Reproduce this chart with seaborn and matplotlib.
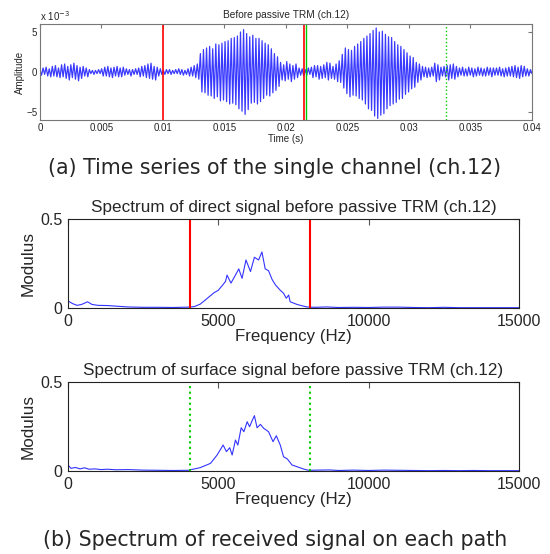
import numpy as np
import pandas as pd
import matplotlib
matplotlib.use("Agg")
import matplotlib.pyplot as plt
import seaborn as sns

# time series (ch.12), local extremes, units of 1e-3
noise_before = [0.3, -0.4, 0.5, -0.3, 0.6, -0.5, 0.4, -0.6,
                0.7, -0.5, 0.8, -0.6, 0.5, -0.7, 0.9, -0.6,
                1.0, -0.8, 0.7, -1.0, 0.9, -0.7, 1.1, -0.9,
                0.8, -1.1, 0.6, -0.8, 0.7, -0.5, 0.5, -0.6,
                0.3, -0.2, 0.2, -0.3, 0.2, -0.2, 0.3, -0.2,
                0.4, -0.5, 0.6, -0.5, 0.7, -0.6, 0.5, -0.7,
                0.6, -0.5, 0.7, -0.6, 0.5, -0.6, 0.6, -0.4,
                0.4, -0.3, 0.3, -0.5, 0.3, -0.3, 0.4, -0.3,
                0.5, -0.6, 0.7, -0.5, 0.8, -0.7, 1.0, -0.8,
                1.1, -0.9, 0.7, -1.0, 0.6, -0.5, 0.4, -0.3,
                0.2, -0.3, 0.3, -0.2, 0.3, -0.3, 0.2, -0.2,
                0.3, -0.2, 0.4, -0.3, 0.3, -0.4, 0.2, -0.3,
                0.4, -0.5, 0.6, -0.5, 0.8, -0.7, 1.0, -0.9]
burst_direct = [2.3, -2.5, 2.8, -2.6, 3.0, -2.9, 3.2, -3.0,
                2.9, -3.3, 3.5, -3.1, 3.4, -3.6, 3.6, -3.5,
                3.8, -3.7, 3.9, -4.0, 4.2, -3.9, 4.3, -4.1,
                4.5, -4.6, 5.0, -4.9, 5.3, -5.3, 4.8, -4.7,
                4.4, -3.9, 4.6, -3.8, 4.2, -4.0, 4.2, -3.7,
                3.9, -3.3, 3.6, -2.9, 3.4, -3.0, 2.9, -2.6,
                2.3, -2.3, 1.9, -1.8, 1.2, -1.0, 0.9, -1.1,
                1.3, -0.9, 1.0, -1.2, 0.8, -0.9, 1.0, -0.7]
gap = [0.5, -0.4, 0.4, -0.5, 0.3, -0.4, 0.5, -0.3,
       0.6, -0.7, 0.8, -0.6, 0.8, -0.9, 0.7, -0.8,
       0.9, -0.7, 1.2, -1.0, 1.1, -0.8, 0.7, -0.9]
burst_surface = [1.0, -1.2, 1.4, -1.3, 2.2, -2.0, 3.0, -2.7,
                 2.8, -3.1, 2.7, -2.9, 3.2, -3.0, 3.5, -3.3,
                 3.8, -3.5, 4.2, -4.0, 4.5, -4.6, 4.8, -4.8,
                 5.2, -5.5, 5.5, -5.8, 5.0, -5.4, 5.1, -5.2,
                 4.7, -4.6, 4.4, -4.2, 4.3, -4.0, 3.8, -3.8,
                 3.4, -3.4, 3.2, -3.3, 2.8, -2.8, 2.4, -2.5,
                 2.0, -2.1, 1.8, -1.9, 1.2, -1.3, 1.0, -1.0]
noise_after = [0.7, -0.6, 0.6, -0.7, 0.5, -0.6, 0.6, -0.5,
               1.1, -1.2, 0.9, -1.0, 0.6, -0.5, 0.7, -0.6,
               0.8, -1.0, 0.9, -0.8, 1.0, -0.9, 0.7, -0.6,
               0.5, -0.4, 0.6, -0.5, 0.4, -0.5, 0.6, -0.4,
               0.5, -0.6, 0.4, -0.5, 0.6, -0.4, 0.5, -0.5,
               0.4, -0.5, 0.6, -0.4, 0.5, -0.6, 0.5, -0.4,
               0.5, -0.4, 0.6, -0.5, 0.4, -0.6, 0.5, -0.5,
               0.6, -0.5, 0.7, -0.6, 0.8, -0.7, 0.6, -0.8,
               0.8, -0.6, 0.7, -0.5, 0.4, -0.5, 0.3, -0.2]
t_end = 0.04
direct_marks = [0.01, 0.0215]
surface_marks = [0.0216, 0.033]

# spectra
freq_direct = [0, 150, 300, 450, 650, 800, 1000, 1300, 1650, 2000,
               2500, 3000, 3500, 4000, 4200, 4400, 4600, 4850, 5000, 5150,
               5240, 5290, 5420, 5570, 5680, 5790, 5920, 6070, 6200, 6340,
               6450, 6560, 6670, 6790, 6900, 7060, 7170, 7260, 7340, 7390,
               7500, 7620, 7800, 7950, 8200, 8600, 9000, 9500, 10000, 10500,
               11000, 11500, 12000, 12500, 13000, 13500, 14000, 14500, 15000]
mod_direct = [0.04, 0.025, 0.015, 0.02, 0.035, 0.02, 0.015, 0.014, 0.01, 0.006,
              0.004, 0.004, 0.003, 0.005, 0.008, 0.022, 0.05, 0.085, 0.10, 0.13,
              0.15, 0.185, 0.14, 0.185, 0.22, 0.167, 0.27, 0.205, 0.285, 0.27,
              0.315, 0.22, 0.21, 0.16, 0.13, 0.10, 0.083, 0.055, 0.073, 0.035,
              0.028, 0.02, 0.012, 0.006, 0.004, 0.006, 0.003, 0.004, 0.003, 0.005,
              0.005, 0.003, 0.002, 0.004, 0.002, 0.002, 0.002, 0.002, 0.002]
freq_surface = [0, 100, 250, 400, 550, 700, 900, 1100, 1300, 1600,
                2000, 2500, 3000, 3500, 4000, 4400, 4740, 4960, 5160, 5270,
                5380, 5460, 5570, 5650, 5760, 5850, 5960, 6040, 6120, 6200,
                6290, 6400, 6510, 6670, 6820, 6930, 7060, 7170, 7300, 7450,
                7620, 7840, 8000, 8300, 8700, 9000, 9500, 10000, 10500, 11000,
                11500, 12000, 12500, 13000, 13500, 14000, 14500, 15000]
mod_surface = [0.034, 0.015, 0.02, 0.012, 0.018, 0.01, 0.012, 0.008, 0.01, 0.007,
               0.008, 0.005, 0.004, 0.003, 0.004, 0.019, 0.043, 0.09, 0.146, 0.109,
               0.131, 0.09, 0.174, 0.146, 0.243, 0.221, 0.277, 0.249, 0.281, 0.311,
               0.243, 0.262, 0.24, 0.221, 0.165, 0.198, 0.146, 0.08, 0.067, 0.034,
               0.024, 0.011, 0.004, 0.005, 0.006, 0.003, 0.005, 0.003, 0.005, 0.004,
               0.003, 0.002, 0.003, 0.002, 0.003, 0.002, 0.002, 0.002]
band = [4070, 8060]

sns.set_style("white")
plt.rcParams["font.family"] = ["Liberation Sans", "DejaVu Sans"]
plt.rcParams["xtick.direction"] = "in"
plt.rcParams["ytick.direction"] = "in"

amp = noise_before + burst_direct + gap + burst_surface + noise_after
ts = pd.DataFrame({"t": np.linspace(0, t_end, len(amp)), "amp": amp})
spec_d = pd.DataFrame({"f": freq_direct, "m": mod_direct})
spec_s = pd.DataFrame({"f": freq_surface, "m": mod_surface})

fig = plt.figure(figsize=(5.5, 5.54), dpi=100)
ax1 = fig.add_axes([0.0727, 0.7834, 0.8945, 0.1733])
ax2 = fig.add_axes([0.1236, 0.444, 0.82, 0.1606])
ax3 = fig.add_axes([0.1236, 0.1498, 0.82, 0.1606])

# time series
sns.lineplot(data=ts, x="t", y="amp", ax=ax1, color="#3a3aff", lw=0.9)
ax1.axvline(direct_marks[0], color="red", lw=1.2)
ax1.axvline(direct_marks[1], color="red", lw=1.2)
ax1.axvline(surface_marks[0], color="#00cc00", lw=1.0)
ax1.axvline(surface_marks[1], color="#00cc00", lw=1.0, ls=":")
ax1.set_xlim(0, t_end)
ax1.set_ylim(-6, 6)
ax1.set_xticks(np.arange(0, 0.0401, 0.005))
ax1.set_xticklabels(["0", "0.005", "0.01", "0.015", "0.02", "0.025", "0.03", "0.035", "0.04"])
ax1.set_yticks([-5, 0, 5])
ax1.tick_params(labelsize=7, length=3, color="#777777", top=True, right=True, pad=2)
ax1.set_xlabel("Time (s)", fontsize=7, labelpad=1)
ax1.set_ylabel("Amplitude", fontsize=7, labelpad=1)
ax1.set_title("Before passive TRM (ch.12)", fontsize=7.3, pad=4)
ax1.text(0, 1.03, "x 10$^{-3}$", transform=ax1.transAxes, fontsize=7)
for s in ax1.spines.values():
    s.set_color("#777777")

# spectra
panels = [(ax2, spec_d, "Spectrum of direct signal before passive TRM (ch.12)", "red", "-"),
          (ax3, spec_s, "Spectrum of surface signal before passive TRM (ch.12)", "#00cc00", ":")]
for ax, df, title, c, ls in panels:
    sns.lineplot(data=df, x="f", y="m", ax=ax, color="#3333ff", lw=0.8)
    for b in band:
        ax.axvline(b, color=c, lw=1.5, ls=ls)
    ax.set_xlim(0, 15000)
    ax.set_ylim(0, 0.5)
    ax.set_xticks([0, 5000, 10000, 15000])
    ax.set_xticklabels(["0", "5000", "10000", "15000"])
    ax.set_yticks([0, 0.5])
    ax.set_yticklabels(["0", "0.5"])
    ax.tick_params(labelsize=11.5, length=4, color="#555555", top=True, right=True)
    ax.tick_params(axis="x", pad=4)
    ax.tick_params(axis="y", pad=4)
    ax.set_xlabel("Frequency (Hz)", fontsize=12.2, labelpad=0)
    ax.set_ylabel("Modulus", fontsize=12.3, labelpad=3)
    ax.set_title(title, fontsize=12.3, pad=5)
    for s in ax.spines.values():
        s.set_color("#222222")

cap_font = ["DejaVu Sans"]
fig.text(0.5, 1 - 168 / 554, "(a) Time series of the single channel (ch.12)",
         ha="center", va="center", fontsize=14.8, family=cap_font)
fig.text(0.5, 1 - 540 / 554, "(b) Spectrum of received signal on each path",
         ha="center", va="center", fontsize=14.8, family=cap_font)

fig.savefig("out.png", dpi=100)
